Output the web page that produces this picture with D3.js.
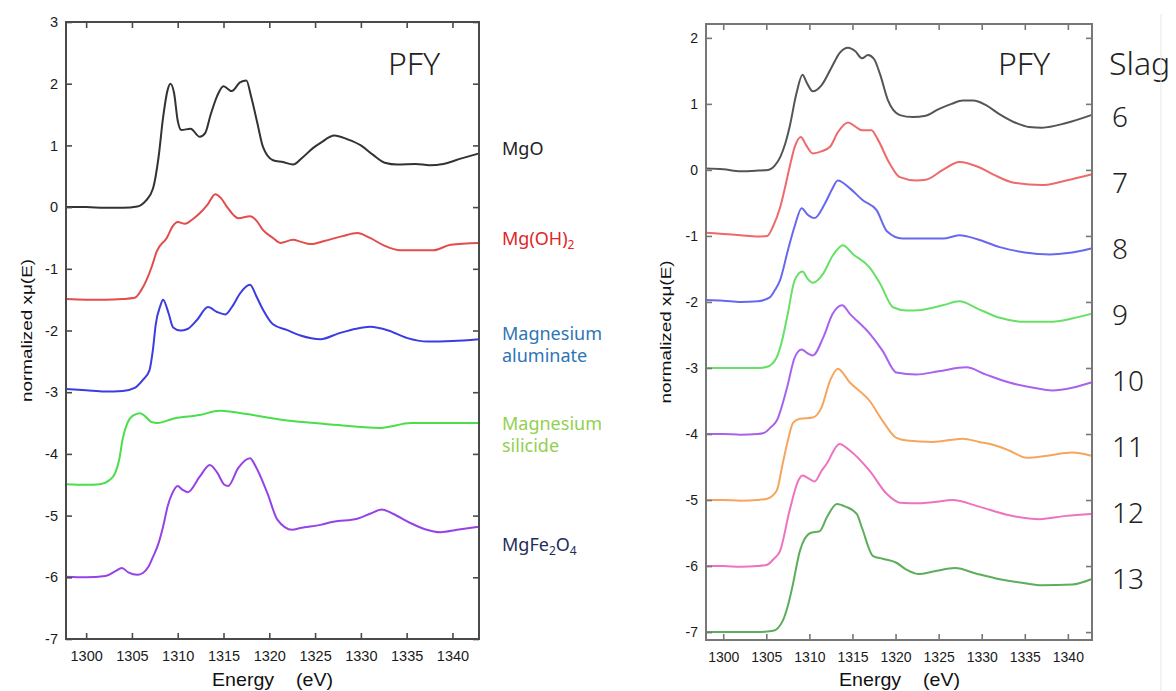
<!doctype html>
<html>
<head>
<meta charset="utf-8">
<style>
  body { margin: 0; background: #fff; }
  svg { display: block; }
  .tick text { font-family: "Liberation Sans", Arial, sans-serif; fill: #1a1a1a; }
  .axlabel { font-family: "Liberation Sans", Arial, sans-serif; fill: #111; }
  .big { font-family: "Noto Sans", sans-serif; font-weight: 300; fill: #222; }
  .name { font-family: "Noto Sans", sans-serif; font-size: 18px; }
</style>
</head>
<body>
<div id="chart"></div>
<script src="https://cdn.jsdelivr.net/npm/d3@7"></script>
<script>

// ---- data: left panel (reference compounds), [energy eV, normalized xmu(E)]
var refNames = ['MgO', 'Mg(OH)2', 'Magnesium aluminate', 'Magnesium silicide', 'MgFe2O4'];

var mgo = [[1297.8,0.0],[1300,0.0],[1302,-0.01],[1304,-0.01],[1305.6,0.01],[1306.5,0.1],[1307.3,0.3],[1307.9,0.8],[1308.4,1.45],[1308.9,1.9],[1309.2,2.0],[1309.6,1.85],[1310,1.4],[1310.4,1.25],[1311.4,1.27],[1312.4,1.14],[1313,1.2],[1313.6,1.5],[1314.3,1.8],[1315.0,1.96],[1315.9,1.88],[1316.8,2.02],[1317.5,2.05],[1318,1.8],[1318.7,1.36],[1319.3,0.98],[1320.4,0.76],[1321.5,0.73],[1322.6,0.69],[1323.6,0.8],[1324.8,0.96],[1325.6,1.04],[1327.1,1.16],[1328.5,1.1],[1330,1.0],[1331.3,0.85],[1332.6,0.72],[1334,0.69],[1336,0.7],[1337.5,0.68],[1339,0.7],[1341,0.79],[1342.9,0.87]];

var mgoh2 = [[1297.8,-1.49],[1300,-1.5],[1302,-1.5],[1304,-1.49],[1305.3,-1.47],[1306,-1.35],[1306.6,-1.18],[1307.2,-0.95],[1307.7,-0.72],[1308.8,-0.5],[1309.5,-0.3],[1310,-0.24],[1310.8,-0.27],[1311.6,-0.2],[1312.4,-0.1],[1313.3,0.05],[1314.1,0.21],[1314.7,0.15],[1315.4,0.0],[1316.6,-0.18],[1317.9,-0.15],[1318.6,-0.22],[1319.3,-0.37],[1320.4,-0.5],[1321.2,-0.58],[1322.6,-0.53],[1323.4,-0.56],[1324.5,-0.6],[1326,-0.55],[1328,-0.47],[1329.6,-0.42],[1331,-0.5],[1332.5,-0.62],[1334.3,-0.7],[1336,-0.7],[1337.9,-0.7],[1339.8,-0.61],[1342.9,-0.58]];

var aluminate = [[1297.8,-2.95],[1300,-2.97],[1302,-2.99],[1304,-2.98],[1305.3,-2.93],[1306.2,-2.8],[1306.9,-2.65],[1307.3,-2.3],[1307.6,-1.9],[1308.1,-1.6],[1308.4,-1.5],[1309,-1.72],[1309.5,-1.95],[1310.3,-2.0],[1311.0,-1.98],[1312.1,-1.83],[1313.3,-1.62],[1314.3,-1.7],[1315.2,-1.74],[1316,-1.6],[1316.8,-1.4],[1317.9,-1.26],[1318.6,-1.45],[1319.3,-1.66],[1320.4,-1.9],[1321.9,-1.99],[1323.4,-2.08],[1325.6,-2.14],[1327.5,-2.05],[1329.5,-1.97],[1331,-1.94],[1333,-2.0],[1335,-2.12],[1337.3,-2.18],[1340,-2.17],[1342.9,-2.14]];

var silicide = [[1297.8,-4.49],[1300,-4.5],[1301.5,-4.49],[1302.6,-4.42],[1303.2,-4.3],[1303.6,-4.1],[1304,-3.75],[1304.5,-3.5],[1305.1,-3.38],[1305.9,-3.34],[1306.5,-3.4],[1307.1,-3.48],[1307.8,-3.5],[1309.5,-3.43],[1312.4,-3.37],[1314.6,-3.3],[1316,-3.32],[1318.2,-3.37],[1321.5,-3.45],[1325,-3.5],[1328,-3.54],[1332.1,-3.58],[1335.5,-3.5],[1339,-3.5],[1342.9,-3.5]];

var mgfe2o4 = [[1297.8,-5.99],[1300,-6.0],[1302.1,-5.98],[1303.2,-5.9],[1303.9,-5.85],[1304.6,-5.92],[1305.6,-5.96],[1306.2,-5.93],[1306.8,-5.83],[1307.3,-5.67],[1307.9,-5.45],[1308.4,-5.18],[1308.9,-4.85],[1309.4,-4.64],[1310,-4.52],[1310.5,-4.58],[1311.1,-4.62],[1312.4,-4.37],[1313.5,-4.18],[1314.3,-4.3],[1315.1,-4.5],[1315.5,-4.52],[1316.6,-4.23],[1317.9,-4.07],[1318.5,-4.2],[1319.8,-4.64],[1320.9,-5.07],[1322.5,-5.23],[1323.4,-5.2],[1325.6,-5.15],[1327,-5.1],[1329.6,-5.05],[1331,-4.97],[1332.3,-4.9],[1333.5,-4.97],[1335.4,-5.12],[1337,-5.22],[1338.7,-5.27],[1340.5,-5.23],[1342.9,-5.18]];

// ---- data: right panel (slags 6..13)
var slagNames = ['6', '7', '8', '9', '10', '11', '12', '13'];
var slagOffsets = [0, -1, -2, -3, -4, -5, -6, -7];

var slag6 = [[1298,0.02],[1300,0.01],[1302,-0.02],[1304,-0.01],[1305.2,0.0],[1306,0.07],[1306.6,0.19],[1307.2,0.4],[1307.7,0.65],[1308.5,1.16],[1309.2,1.44],[1309.7,1.32],[1310.4,1.19],[1311.4,1.28],[1312.6,1.56],[1313.5,1.77],[1314.5,1.85],[1315.3,1.8],[1316.1,1.69],[1316.8,1.74],[1317.5,1.68],[1318.2,1.45],[1319.1,1.06],[1320.5,0.83],[1322,0.8],[1323.5,0.82],[1325,0.92],[1326.5,1.0],[1327.8,1.05],[1329,1.05],[1330.5,0.98],[1332,0.85],[1334,0.71],[1335.5,0.65],[1337,0.64],[1339.8,0.71],[1342.7,0.83]];

var slag7 = [[1298,-0.95],[1300,-0.97],[1302,-0.99],[1304,-1.01],[1305.1,-1.0],[1305.8,-0.85],[1306.6,-0.57],[1307.2,-0.25],[1307.7,0.04],[1308.3,0.35],[1309,0.5],[1309.6,0.38],[1310.4,0.25],[1311.4,0.28],[1312.4,0.35],[1313.3,0.57],[1314.5,0.72],[1315.3,0.66],[1316.1,0.6],[1317.2,0.6],[1317.9,0.47],[1319.3,0.1],[1320.5,-0.11],[1322.4,-0.16],[1323.5,-0.15],[1325.5,0.0],[1327.4,0.12],[1329.7,0.04],[1331.5,-0.08],[1333.6,-0.19],[1337,-0.23],[1339.8,-0.16],[1342.7,-0.07]];

var slag8 = [[1298,-1.97],[1300,-1.98],[1302,-2.0],[1304,-1.99],[1305.4,-1.93],[1306,-1.82],[1306.6,-1.67],[1307.5,-1.22],[1308.3,-0.85],[1309.1,-0.58],[1309.8,-0.68],[1310.6,-0.73],[1311.8,-0.51],[1312.6,-0.3],[1313.3,-0.16],[1314.7,-0.28],[1316.2,-0.46],[1317.8,-0.61],[1319,-0.93],[1320.8,-1.04],[1323,-1.04],[1325.5,-1.04],[1327.4,-0.99],[1329.5,-1.05],[1332.1,-1.17],[1335,-1.25],[1337.9,-1.28],[1340,-1.26],[1342.7,-1.19]];

var slag9 = [[1298,-3.0],[1300,-3.0],[1302,-3.0],[1304,-3.0],[1305.1,-2.98],[1306.2,-2.84],[1306.8,-2.6],[1307.4,-2.24],[1308.3,-1.67],[1309.2,-1.54],[1309.8,-1.65],[1310.4,-1.71],[1311.6,-1.57],[1312.7,-1.3],[1313.9,-1.14],[1315,-1.27],[1317,-1.48],[1318.2,-1.72],[1319.7,-2.08],[1321.3,-2.13],[1323,-2.12],[1325.5,-2.05],[1327.4,-1.99],[1329.5,-2.1],[1332.1,-2.24],[1335,-2.3],[1337.9,-2.3],[1340.5,-2.25],[1342.7,-2.18]];

var slag10 = [[1298,-4.0],[1300,-4.0],[1302,-4.01],[1304,-4.0],[1304.8,-3.98],[1305.5,-3.9],[1306.2,-3.8],[1307.4,-3.3],[1308.3,-2.84],[1309.1,-2.72],[1309.7,-2.77],[1310.4,-2.81],[1311.6,-2.54],[1312.7,-2.18],[1313.8,-2.05],[1314.7,-2.18],[1317,-2.48],[1318.5,-2.74],[1320.1,-3.07],[1322.4,-3.1],[1325,-3.05],[1328.2,-2.99],[1330.5,-3.1],[1333.2,-3.22],[1336,-3.3],[1338.2,-3.34],[1340.5,-3.3],[1342.7,-3.22]];

var slag11 = [[1298,-5.0],[1300,-5.0],[1302,-5.01],[1304,-5.0],[1305.1,-4.98],[1306.2,-4.86],[1306.9,-4.45],[1307.5,-4.1],[1308.1,-3.83],[1308.9,-3.77],[1310.4,-3.75],[1311.4,-3.6],[1312.4,-3.19],[1313.3,-3.01],[1314.7,-3.22],[1317,-3.5],[1318.5,-3.8],[1320.1,-4.06],[1321.3,-4.1],[1324.3,-4.12],[1327.8,-4.07],[1329.7,-4.12],[1331.5,-4.17],[1333.2,-4.25],[1335.2,-4.36],[1338,-4.32],[1340.5,-4.28],[1342.7,-4.33]];

var slag12 = [[1298,-6.0],[1300,-6.0],[1302,-6.01],[1304,-6.0],[1305.1,-5.98],[1305.8,-5.9],[1306.6,-5.77],[1307.7,-5.16],[1308.7,-4.71],[1309.2,-4.63],[1310,-4.68],[1310.6,-4.72],[1311.4,-4.56],[1312,-4.45],[1313.5,-4.15],[1314.7,-4.25],[1317,-4.56],[1319,-4.91],[1320.5,-5.04],[1322.8,-5.05],[1324.5,-5.03],[1326.6,-5.0],[1329.7,-5.1],[1333.2,-5.23],[1336.7,-5.29],[1339.8,-5.24],[1342.7,-5.21]];

var slag13 = [[1298,-7.0],[1300,-7.0],[1302,-7.0],[1304,-7.0],[1305.8,-6.98],[1306.9,-6.83],[1307.5,-6.6],[1308,-6.33],[1308.9,-5.77],[1310.1,-5.5],[1311.2,-5.47],[1312,-5.27],[1313.2,-5.06],[1314.2,-5.1],[1315.5,-5.21],[1316.1,-5.42],[1317.4,-5.85],[1318.5,-5.89],[1320.1,-5.95],[1321.2,-6.05],[1322.6,-6.12],[1324.5,-6.08],[1326.9,-6.03],[1329.5,-6.12],[1332.1,-6.2],[1335,-6.26],[1337,-6.29],[1340.5,-6.28],[1342.7,-6.2]];

var xTicks = [1300, 1305, 1310, 1315, 1320, 1325, 1330, 1335, 1340];

// ---- layout
var W = 1176, H = 691;

var svg = d3.select('#chart').append('svg')
  .attr('width', W).attr('height', H);
svg.append('rect').attr('width', W).attr('height', H).attr('fill', '#fff');

function fmt(d) { return String(d); } // plain hyphen minus like the original

function panel(o) {
  var x = d3.scaleLinear().domain(o.xDomain).range([o.left, o.right]);
  var y = d3.scaleLinear().domain(o.yDomain).range([o.bottom, o.top]);
  var g = svg.append('g');

  var line = d3.line()
    .x(function(d){ return x(d[0]); })
    .y(function(d){ return y(d[1]); })
    .curve(d3.curveMonotoneX);

  g.selectAll('path.series')
    .data(o.series)
    .enter().append('path')
      .attr('class', 'series')
      .attr('d', line)
      .attr('fill', 'none')
      .attr('stroke', function(d, i){ return o.colors[i]; })
      .attr('stroke-width', 2)
      .attr('stroke-linejoin', 'round');

  var yTicks = d3.range(-7, o.yMaxTick + 1);

  // axes, inward ticks
  var bx = g.append('g').attr('transform', 'translate(0,' + o.bottom + ')')
    .call(d3.axisBottom(x).tickValues(xTicks).tickSize(-6).tickPadding(12).tickFormat(fmt));
  var tx = g.append('g').attr('transform', 'translate(0,' + o.top + ')')
    .call(d3.axisTop(x).tickValues(xTicks).tickSize(-6).tickFormat(''));
  var ly = g.append('g').attr('transform', 'translate(' + o.left + ',0)')
    .call(d3.axisLeft(y).tickValues(yTicks).tickSize(-6).tickPadding(8).tickFormat(fmt));
  var ry = g.append('g').attr('transform', 'translate(' + o.right + ',0)')
    .call(d3.axisRight(y).tickValues(yTicks).tickSize(-6).tickFormat(''));

  [bx, tx, ly, ry].forEach(function(a){
    a.select('.domain').remove();
    a.selectAll('.tick line').attr('stroke', o.frame).attr('stroke-width', 1.6);
    a.selectAll('.tick text').style('font-size', o.tickFont + 'px');
  });

  g.append('rect')
    .attr('x', o.left).attr('y', o.top)
    .attr('width', o.right - o.left).attr('height', o.bottom - o.top)
    .attr('fill', 'none').attr('stroke', o.frame).attr('stroke-width', 2);

  // axis titles
  g.append('text').attr('class', 'axlabel')
    .attr('x', o.energyX).attr('y', 686)
    .style('font-size', '19px')
    .attr('xml:space', 'preserve')
    .attr('textLength', 121).attr('lengthAdjust', 'spacingAndGlyphs')
    .text('Energy    (eV)');

  g.append('text').attr('class', 'axlabel')
    .attr('transform', 'translate(' + o.ylabX + ',' + ((o.top + o.bottom) / 2) + ') rotate(-90)')
    .attr('text-anchor', 'middle')
    .style('font-size', '15px')
    .attr('textLength', 143).attr('lengthAdjust', 'spacingAndGlyphs')
    .text('normalized x\u03bc(E)');

  g.append('text').attr('class', 'big')
    .attr('x', o.pfyX).attr('y', 75)
    .style('font-size', '32px')
    .text('PFY');

  return { x: x, y: y, g: g };
}

// left panel
var leftColors = ['#333333', '#e24c4c', '#3c3ce0', '#4ade4a', '#9643e6'];
var L = panel({
  left: 66, right: 479, top: 22, bottom: 639,
  xDomain: [1297.8, 1342.9], yDomain: [-7, 3], yMaxTick: 3,
  series: [mgo, mgoh2, aluminate, silicide, mgfe2o4],
  colors: leftColors, frame: '#4a4a4a', tickFont: 14.5,
  energyX: 212, ylabX: 32, pfyX: 388
});

// right panel
var rightColors = ['#555555', '#ee6a6a', '#6868ee', '#66e066', '#a862ee', '#f6a65c', '#ee72c0', '#5cae5c'];
var R = panel({
  left: 706, right: 1092, top: 24, bottom: 640,
  xDomain: [1298.0, 1342.8], yDomain: [-7.12, 2.21], yMaxTick: 2,
  series: [slag6, slag7, slag8, slag9, slag10, slag11, slag12, slag13],
  colors: rightColors, frame: '#777777', tickFont: 14,
  energyX: 839, ylabX: 671, pfyX: 998
});

// left panel labels (anchor in data units)
var refLabelY = [0.84, -0.61, -2.15, -3.61, -5.57];
var refLabelColors = ['#222222', '#e02626', '#2e75b6', '#92d050', '#1f2d5a'];
var refLines = [
  [['MgO']],
  [['Mg(OH)', '2']],
  [['Magnesium'], ['aluminate']],
  [['Magnesium'], ['silicide']],
  [['MgFe', '2', 'O', '4']]
];

refLines.forEach(function(lines, i){
  var t = svg.append('text').attr('class', 'name')
    .attr('x', 502).attr('y', L.y(refLabelY[i]))
    .attr('fill', refLabelColors[i]);
  lines.forEach(function(parts, j){
    var first = true;
    parts.forEach(function(p, k){
      var ts = t.append('tspan').text(p);
      if (first) { ts.attr('x', 502).attr('dy', j === 0 ? 0 : 22); first = false; }
      if (k % 2 === 1) ts.attr('dy', 4).style('font-size', '12px');
      else if (k > 0) ts.attr('dy', -4);
    });
  });
});

// right panel labels
svg.append('text').attr('class', 'big')
  .attr('x', 1109).attr('y', 75)
  .style('font-size', '32px')
  .text('Slag');

svg.selectAll('text.slag')
  .data(slagNames)
  .enter().append('text')
    .attr('class', 'slag big')
    .attr('x', 1112)
    .attr('y', function(d, i){ return R.y(slagOffsets[i]) - 43; })
    .style('font-size', '28px')
    .text(function(d){ return d; });

// faint separator at right edge
svg.append('line')
  .attr('x1', 1161).attr('x2', 1161).attr('y1', 14).attr('y2', H)
  .attr('stroke', '#e6e6e6').attr('stroke-width', 1);

</script>
</body>
</html>
